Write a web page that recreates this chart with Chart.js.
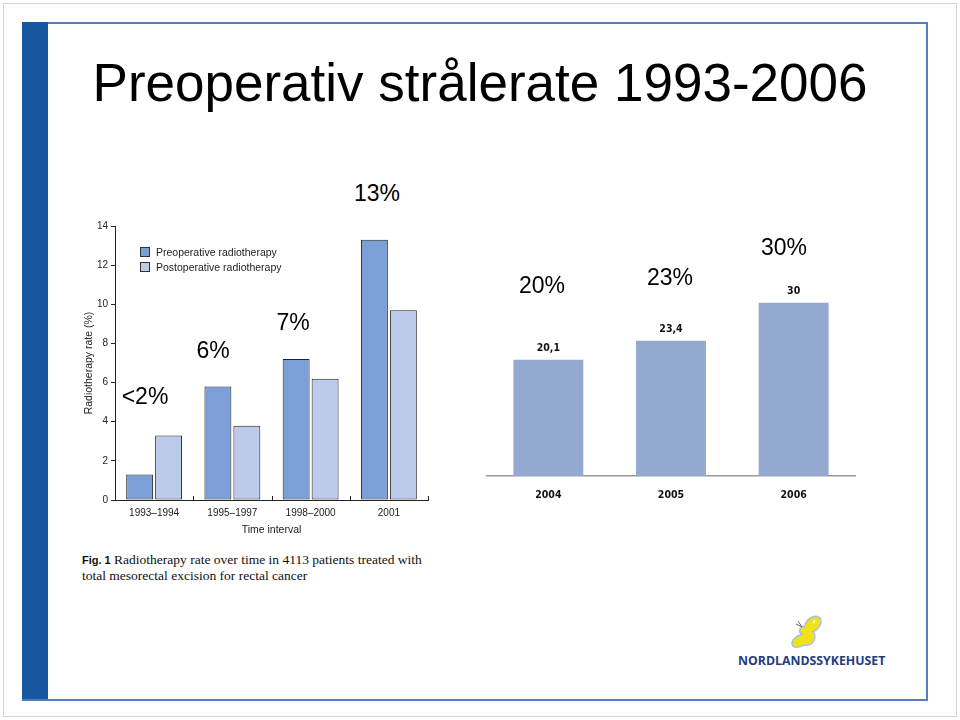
<!DOCTYPE html>
<html>
<head>
<meta charset="utf-8">
<script src="https://cdn.jsdelivr.net/npm/chart.js@4.4.0/dist/chart.umd.min.js"></script>
<style>
  body { margin: 0; background: #fff; font-family: "Liberation Sans", Arial, sans-serif; }
  #page { position: relative; width: 960px; height: 720px; overflow: hidden; }
  .outer { position: absolute; left: 3px; top: 3px; width: 952px; height: 712px; border: 1px solid #d4d4d4; }
  .frame { position: absolute; left: 22px; top: 22px; width: 904px; height: 675px; border: 2px solid #4f7fc0; border-left: none; }
  .sidebar { position: absolute; left: 22px; top: 22px; width: 26px; height: 677px; background: #17579f; }
  .title { position: absolute; left: 0; width: 960px; top: 52px; text-align: center; font-size: 53px; color: #000; white-space: nowrap; }
  .pct { position: absolute; font-size: 23px; color: #000; transform: translate(-50%, -50%); white-space: nowrap; }
  canvas { position: absolute; }
  .legend { position: absolute; left: 140px; top: 245px; font-size: 10.5px; color: #222; line-height: 15px; }
  .legend span.box { display: inline-block; width: 8px; height: 8px; border: 1px solid #333; margin-right: 6px; vertical-align: -1px; }
  .caption { position: absolute; left: 82px; top: 552px; font-family: "Liberation Serif", "DejaVu Serif", serif; font-size: 13.5px; line-height: 16px; color: #111; }
  .caption b { font-family: "Liberation Sans", Arial, sans-serif; font-size: 11px; }
  .logo { position: absolute; left: 738px; top: 652px; font-size: 12.3px; font-weight: bold; color: #1f3d82; letter-spacing: 0; font-family: "Open Sans", "Liberation Sans", sans-serif; }
</style>
</head>
<body>
<div id="page">
  <div class="outer"></div>
  <div class="frame"></div>
  <div class="sidebar"></div>
  <div class="title">Preoperativ strålerate 1993-2006</div>

  <canvas id="chartLeft" width="370" height="330" style="left:70px; top:210px; width:370px; height:330px;"></canvas>
  <canvas id="chartRight" width="390" height="250" style="left:480px; top:260px; width:390px; height:250px;"></canvas>

  <div class="legend">
    <div><span class="box" style="background:#7b9fd6"></span>Preoperative radiotherapy</div>
    <div><span class="box" style="background:#bccbea"></span>Postoperative radiotherapy</div>
  </div>

  <div class="pct" style="left:145px; top:396px;">&lt;2%</div>
  <div class="pct" style="left:213px; top:350px;">6%</div>
  <div class="pct" style="left:293px; top:322px;">7%</div>
  <div class="pct" style="left:377px; top:193px;">13%</div>
  <div class="pct" style="left:542px; top:285px;">20%</div>
  <div class="pct" style="left:670px; top:277px;">23%</div>
  <div class="pct" style="left:784px; top:247px;">30%</div>

  <div class="caption"><b>Fig. 1</b> Radiotherapy rate over time in 4113 patients treated with<br>total mesorectal excision for rectal cancer</div>

  <svg style="position:absolute; left:786px; top:612px;" width="40" height="40" viewBox="0 0 40 40">
    <path d="M19 14 C20 6, 30 2, 34 6 C37 10, 33 17, 27 20 C31 24, 28 33, 21 33 C16 33, 14 36, 9 35 C5 34, 5 29, 9 26 C11 24, 14 23, 16 22 C12 20, 13 15, 19 14 Z" fill="#f2e21a" stroke="#a8c0e0" stroke-width="1.5"/>
    <path d="M16 15 L12 9 M16 15 L10 12" stroke="#667" stroke-width="1"/>
    <path d="M27 9 C28 7, 30 8, 29 10 L27 12 Z" fill="#fff"/>
  </svg>
  <div class="logo">NORDLANDSSYKEHUSET</div>
</div>

<script>
// venstre figur: stråleterapi per periode
const periods = ["1993\u20131994", "1995\u20131997", "1998\u20132000", "2001"];
const preoperative = [1.3, 5.8, 7.2, 13.3];
const postoperative = [3.3, 3.8, 6.2, 9.7];
const leftTicks = [0, 2, 4, 6, 8, 10, 12, 14];

// høyre figur: preoperativ rate
const years = ["2004", "2005", "2006"];
const rates = [20.1, 23.4, 30];

const tickFont = { family: "Liberation Sans", size: 10 };

// små innvendige tick-streker mellom periodene
const innerTicks = {
  id: 'innerTicks',
  afterDraw(chart) {
    const area = chart.chartArea, ctx = chart.ctx;
    const step = (area.right - area.left) / periods.length;
    ctx.save();
    ctx.strokeStyle = '#222';
    ctx.lineWidth = 1;
    for (let i = 1; i <= periods.length; i++) {
      const px = Math.round(area.left + step * i) + 0.5;
      ctx.beginPath();
      ctx.moveTo(px, area.bottom);
      ctx.lineTo(px, area.bottom - 4);
      ctx.stroke();
    }
    ctx.restore();
  }
};

new Chart(document.getElementById('chartLeft'), {
  type: 'bar',
  data: {
    labels: periods,
    datasets: [
      { label: 'Preoperative radiotherapy', data: preoperative, backgroundColor: '#7b9fd6', borderColor: '#222', borderWidth: 1, borderSkipped: false,
        categoryPercentage: 0.74, barPercentage: 0.93 },
      { label: 'Postoperative radiotherapy', data: postoperative, backgroundColor: '#bccbea', borderColor: '#222', borderWidth: 1, borderSkipped: false,
        categoryPercentage: 0.74, barPercentage: 0.93 }
    ]
  },
  options: {
    responsive: false,
    animation: false,
    layout: { padding: { left: 2, right: 12, top: 16, bottom: 0 } },
    plugins: { legend: { display: false }, tooltip: { enabled: false } },
    scales: {
      x: {
        grid: { drawOnChartArea: false, color: 'rgba(0,0,0,0)', tickLength: 4 },
        border: { color: '#222', width: 1 },
        ticks: { color: '#222', font: tickFont, padding: 3 },
        title: { display: true, text: 'Time interval', color: '#222', font: { family: "Liberation Sans", size: 10.5 }, padding: { top: 2 } },
        afterFit: s => { s.height = 40; }
      },
      y: {
        min: 0, max: 14,
        afterBuildTicks: s => { s.ticks = leftTicks.map(v => ({ value: v })); },
        grid: { drawOnChartArea: false, color: '#222', tickLength: 4 },
        border: { color: '#222', width: 1 },
        ticks: { color: '#222', font: tickFont, padding: 3 },
        title: { display: true, text: 'Radiotherapy rate (%)', color: '#222', font: { family: "Liberation Sans", size: 10.5 }, padding: { top: 11, bottom: 0 } },
        afterFit: s => { s.width = 43; }
      }
    }
  },
  plugins: [innerTicks]
});

// verdier over søylene, med komma
const valueLabels = {
  id: 'valueLabels',
  afterDatasetsDraw(chart) {
    const ctx = chart.ctx;
    ctx.save();
    ctx.font = 'bold 10.5px "DejaVu Sans Condensed", "Liberation Sans", sans-serif';
    ctx.fillStyle = '#111';
    ctx.textAlign = 'center';
    ctx.textBaseline = 'bottom';
    chart.getDatasetMeta(0).data.forEach((bar, i) => {
      ctx.fillText(String(rates[i]).replace('.', ','), bar.x, bar.y - 6);
    });
    ctx.restore();
  }
};

new Chart(document.getElementById('chartRight'), {
  type: 'bar',
  data: {
    labels: years,
    datasets: [{ data: rates, backgroundColor: '#93a9d2', categoryPercentage: 1, barPercentage: 0.57 }]
  },
  options: {
    responsive: false,
    animation: false,
    layout: { padding: { left: 7, right: 15, top: 8, bottom: 0 } },
    plugins: { legend: { display: false }, tooltip: { enabled: false } },
    scales: {
      x: {
        grid: { display: false },
        border: { color: '#999', width: 1.5 },
        ticks: { color: '#111', font: { family: '"DejaVu Sans Condensed", "Liberation Sans", sans-serif', size: 10.5, weight: 'bold' }, padding: 5 },
        afterFit: s => { s.height = 34; }
      },
      y: { display: false, min: 0, max: 36 }
    }
  },
  plugins: [valueLabels]
});
</script>
</body>
</html>
